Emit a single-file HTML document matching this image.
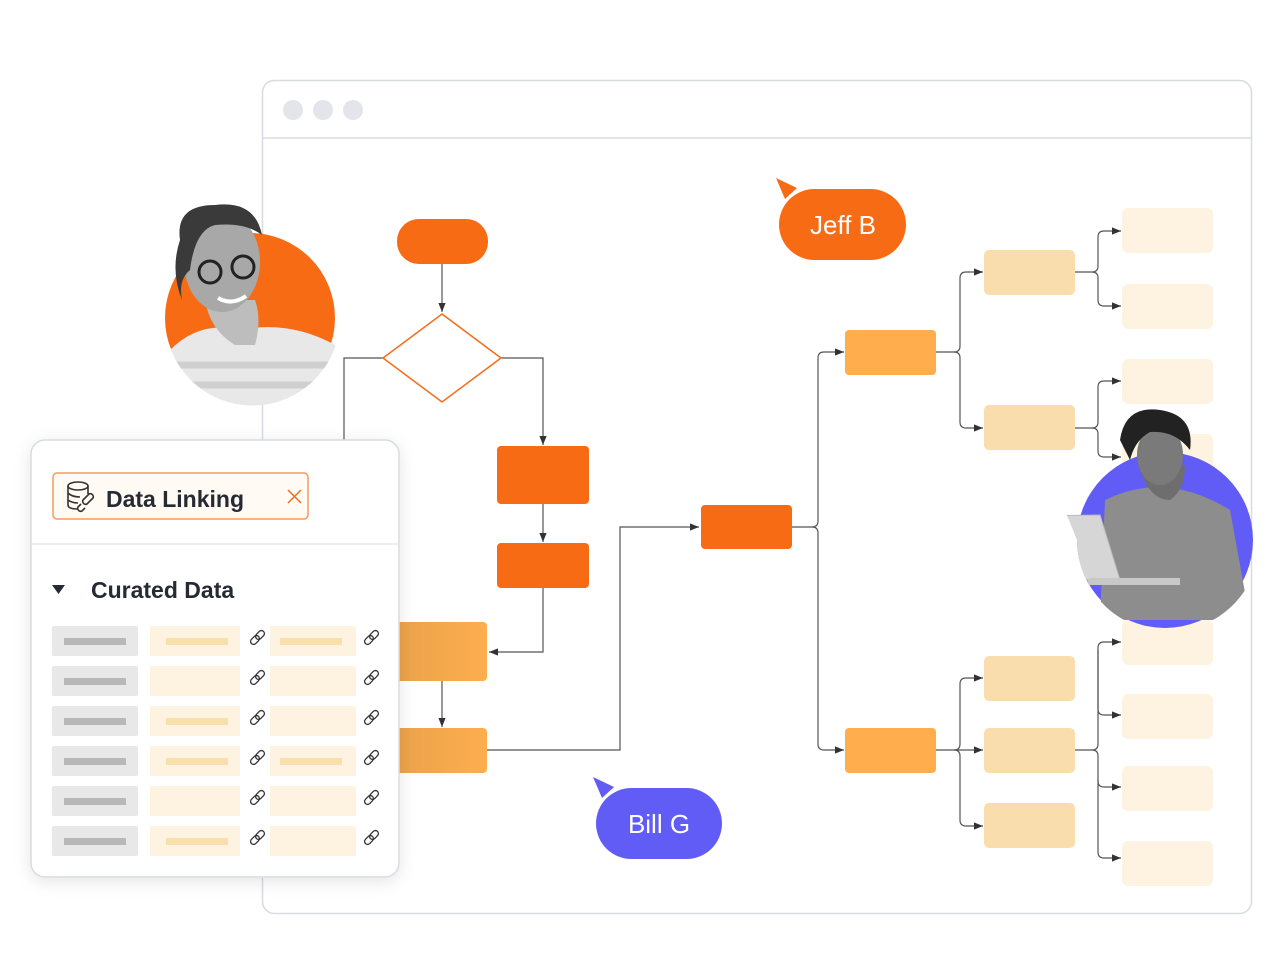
<!DOCTYPE html>
<html><head><meta charset="utf-8"><style>
html,body{margin:0;padding:0;background:#fff;}
body{width:1280px;height:960px;position:relative;overflow:hidden;font-family:"Liberation Sans",sans-serif;}
svg{position:absolute;left:0;top:0;}
</style></head><body>
<svg width="1280" height="960" viewBox="0 0 1280 960" xmlns="http://www.w3.org/2000/svg">
<defs>
<marker id="a" viewBox="0 0 10 10" refX="10" refY="5" markerWidth="11" markerHeight="9" orient="auto" markerUnits="userSpaceOnUse"><path d="M0,1 L10,5 L0,9 z" fill="#333"/></marker>
<linearGradient id="g" x1="0" x2="1"><stop offset="0" stop-color="#eba24a"/><stop offset="1" stop-color="#fdae4f"/></linearGradient>
<filter id="sh" x="-20%" y="-20%" width="140%" height="140%"><feDropShadow dx="0" dy="4" stdDeviation="8" flood-color="#000" flood-opacity="0.10"/></filter>
<clipPath id="c1"><path d="M160,190 H340 V318 A85,85 0 0 1 165,318 Z"/></clipPath>
<clipPath id="c2"><path d="M1020,400 H1260 V540 A88,88 0 0 1 1077,540 Z"/></clipPath>
</defs>
<rect x="262.5" y="80.5" width="989" height="833" rx="12" fill="#fff" stroke="#d8dbe0" stroke-width="1.5"/>
<line x1="263" y1="138" x2="1251" y2="138" stroke="#d8dbe0" stroke-width="1.5"/>
<circle cx="293" cy="110" r="10" fill="#e3e5ea"/><circle cx="323" cy="110" r="10" fill="#e3e5ea"/><circle cx="353" cy="110" r="10" fill="#e3e5ea"/>

<g fill="none" stroke="#555" stroke-width="1.2">
<path d="M442,264 V312" marker-end="url(#a)"/>
<path d="M501,358 H543 V445" marker-end="url(#a)"/>
<path d="M383,358 H344 V440"/>
<path d="M543,504 V542" marker-end="url(#a)"/>
<path d="M543,588 V652 H489" marker-end="url(#a)"/>
<path d="M442,681 V727" marker-end="url(#a)"/>
<path d="M487,750 H620 V527 H699" marker-end="url(#a)"/>
<path d="M792,527 H812 Q818,527 818,521 V358 Q818,352 824,352 H844" marker-end="url(#a)"/>
<path d="M812,527 Q818,527 818,533 V744 Q818,750 824,750 H844" marker-end="url(#a)"/>
<path d="M936,352 H954 Q960,352 960,346 V278 Q960,272 966,272 H983" marker-end="url(#a)"/>
<path d="M954,352 Q960,352 960,358 V422 Q960,428 966,428 H983" marker-end="url(#a)"/>
<path d="M1075,272 H1092 Q1098,272 1098,266 V237 Q1098,231 1104,231 H1121" marker-end="url(#a)"/>
<path d="M1092,272 Q1098,272 1098,278 V300 Q1098,306 1104,306 H1121" marker-end="url(#a)"/>
<path d="M1075,428 H1092 Q1098,428 1098,422 V387 Q1098,381 1104,381 H1121" marker-end="url(#a)"/>
<path d="M1092,428 Q1098,428 1098,434 V451 Q1098,457 1104,457 H1121" marker-end="url(#a)"/>
<path d="M936,750 H954 Q960,750 960,744 V684 Q960,678 966,678 H983" marker-end="url(#a)"/>
<path d="M954,750 H983" marker-end="url(#a)"/>
<path d="M954,750 Q960,750 960,756 V820 Q960,826 966,826 H983" marker-end="url(#a)"/>
<path d="M1075,750 H1092 Q1098,750 1098,744 V648 Q1098,642 1104,642 H1121" marker-end="url(#a)"/>
<path d="M1098,650 V709 Q1098,715 1104,715 H1121" marker-end="url(#a)"/>
<path d="M1092,750 Q1098,750 1098,756 V781 Q1098,787 1104,787 H1121" marker-end="url(#a)"/>
<path d="M1098,780 V852 Q1098,858 1104,858 H1121" marker-end="url(#a)"/>
</g>

<rect x="397" y="219" width="91" height="45" rx="22" fill="#f76b15"/>
<path d="M442,314 L501,358 L442,402 L383,358 Z" fill="#fff" stroke="#f76b15" stroke-width="1.5"/>
<rect x="497" y="446" width="92" height="58" rx="4" fill="#f76b15"/>
<rect x="497" y="543" width="92" height="45" rx="4" fill="#f76b15"/>
<rect x="396" y="622" width="91" height="59" rx="4" fill="url(#g)"/>
<rect x="396" y="728" width="91" height="45" rx="4" fill="url(#g)"/>
<rect x="701" y="505" width="91" height="44" rx="4" fill="#f76b15"/>
<rect x="845" y="330" width="91" height="45" rx="4" fill="#ffad4d"/>
<rect x="845" y="728" width="91" height="45" rx="4" fill="#ffad4d"/>
<g fill="#f9ddad">
<rect x="984" y="250" width="91" height="45" rx="5"/><rect x="984" y="405" width="91" height="45" rx="5"/>
<rect x="984" y="656" width="91" height="45" rx="5"/><rect x="984" y="728" width="91" height="45" rx="5"/><rect x="984" y="803" width="91" height="45" rx="5"/>
</g>
<g fill="#fdf3e0">
<rect x="1122" y="208" width="91" height="45" rx="6"/><rect x="1122" y="284" width="91" height="45" rx="6"/>
<rect x="1122" y="359" width="91" height="45" rx="6"/><rect x="1122" y="434" width="91" height="45" rx="6"/>
<rect x="1122" y="620" width="91" height="45" rx="6"/><rect x="1122" y="694" width="91" height="45" rx="6"/>
<rect x="1122" y="766" width="91" height="45" rx="6"/><rect x="1122" y="841" width="91" height="45" rx="6"/>
</g>

<path d="M776,178 L797,188 L785,199 Z" fill="#f76b15"/>
<rect x="779" y="189" width="127" height="71" rx="35.5" fill="#f76b15"/>
<text x="843" y="234" font-size="26" fill="#fff" text-anchor="middle">Jeff B</text>
<path d="M593,777 L614,787 L602,798 Z" fill="#605cf5"/>
<rect x="596" y="788" width="126" height="71" rx="35.5" fill="#605cf5"/>
<text x="659" y="833" font-size="26" fill="#fff" text-anchor="middle">Bill G</text>

<circle cx="250" cy="318" r="85" fill="#f76b15"/>
<g clip-path="url(#c1)">
<path d="M170,350 Q200,320 240,330 Q290,320 335,345 L340,410 L165,410 Z" fill="#e8e8e8"/>
<path d="M175,365 H335 M172,385 H335" stroke="#cfcfcf" stroke-width="7"/>
<path d="M205,300 Q210,330 235,345 L255,345 Q262,320 255,300 Z" fill="#bdbdbd"/>
<ellipse cx="222" cy="262" rx="38" ry="50" fill="#a8a8a8"/>
<path d="M180,240 Q175,205 215,205 Q255,200 262,235 Q245,222 215,225 Q195,230 190,270 Q178,280 182,300 Q170,270 180,240Z" fill="#3a3a3a"/>
<circle cx="210" cy="272" r="11" fill="none" stroke="#222" stroke-width="3"/>
<circle cx="243" cy="267" r="11" fill="none" stroke="#222" stroke-width="3"/>
<path d="M218,298 Q232,306 246,296" stroke="#fff" stroke-width="4" fill="none"/>
</g>

<circle cx="1165" cy="540" r="88" fill="#605cf5"/>
<g clip-path="url(#c2)">
<path d="M1105,500 Q1165,470 1230,510 L1250,620 L1100,620 Z" fill="#8d8d8d"/>
<path d="M1140,470 Q1150,500 1170,500 Q1185,490 1185,465 Z" fill="#6e6e6e"/>
<ellipse cx="1160" cy="455" rx="23" ry="30" fill="#7a7a7a"/>
<path d="M1120,440 Q1125,405 1160,410 Q1195,415 1190,450 Q1175,430 1150,432 Q1135,440 1130,460 Z" fill="#222"/>
<path d="M1033,516 L1100,515 L1120,580 L1052,580 Z" fill="#d6d6d6" stroke="#bbb"/>
<path d="M1090,578 H1180 V585 H1085 Z" fill="#c8c8c8"/>
</g>

<rect x="31" y="440" width="368" height="437" rx="14" fill="#fff" stroke="#d8dbe0" stroke-width="1.5" filter="url(#sh)"/>
<rect x="53" y="473" width="255" height="46" rx="4" fill="#fffaf3" stroke="#f79a5b" stroke-width="1.5"/>
<g fill="none" stroke="#333" stroke-width="1.6">
<ellipse cx="78" cy="486" rx="10" ry="4"/><path d="M68,486 V505 Q68,509 78,509 M88,486 V494 M68,493 Q72,497 80,497 M68,500 Q72,503 78,503"/>
<path d="M83,500 l6,-6 a3,3 0 0 1 4,4 l-6,6 a3,3 0 0 1 -4,-4z M81,504 l-3,3 a3,3 0 0 0 4,4 l3,-3"/>
</g>
<text x="106" y="507" font-size="23" font-weight="bold" fill="#252a33">Data Linking</text>
<path d="M288,490 L301,503 M301,490 L288,503" stroke="#f76b15" stroke-width="1.5"/>
<line x1="32" y1="544" x2="398" y2="544" stroke="#e3e5ea" stroke-width="1.5"/>
<path d="M52,585 L65,585 L58.5,594 Z" fill="#252a33"/>
<text x="91" y="598" font-size="23" font-weight="bold" fill="#252a33">Curated Data</text>
<g fill="#e8e8e8"><rect x="52" y="626" width="86" height="30" rx="2"/><rect x="52" y="666" width="86" height="30" rx="2"/><rect x="52" y="706" width="86" height="30" rx="2"/><rect x="52" y="746" width="86" height="30" rx="2"/><rect x="52" y="786" width="86" height="30" rx="2"/><rect x="52" y="826" width="86" height="30" rx="2"/></g>
<g fill="#b8b8b8"><rect x="64" y="638" width="62" height="7"/><rect x="64" y="678" width="62" height="7"/><rect x="64" y="718" width="62" height="7"/><rect x="64" y="758" width="62" height="7"/><rect x="64" y="798" width="62" height="7"/><rect x="64" y="838" width="62" height="7"/></g>
<g fill="#fdf3e0"><rect x="150" y="626" width="90" height="30"/><rect x="150" y="666" width="90" height="30"/><rect x="150" y="706" width="90" height="30"/><rect x="150" y="746" width="90" height="30"/><rect x="150" y="786" width="90" height="30"/><rect x="150" y="826" width="90" height="30"/>
<rect x="270" y="626" width="86" height="30"/><rect x="270" y="666" width="86" height="30"/><rect x="270" y="706" width="86" height="30"/><rect x="270" y="746" width="86" height="30"/><rect x="270" y="786" width="86" height="30"/><rect x="270" y="826" width="86" height="30"/></g>
<g fill="#f8dfab"><rect x="166" y="638" width="62" height="7"/><rect x="166" y="718" width="62" height="7"/><rect x="166" y="758" width="62" height="7"/><rect x="166" y="838" width="62" height="7"/><rect x="280" y="638" width="62" height="7"/><rect x="280" y="758" width="62" height="7"/></g>
<g fill="none" stroke="#333" stroke-width="1.3">
<g id="lk"><rect x="250" y="637" width="10" height="6" rx="3" transform="rotate(-45 255 640)"/><rect x="255" y="632" width="10" height="6" rx="3" transform="rotate(-45 260 635)"/></g>
<use href="#lk" x="114"/>
<use href="#lk" y="40"/><use href="#lk" x="114" y="40"/>
<use href="#lk" y="80"/><use href="#lk" x="114" y="80"/>
<use href="#lk" y="120"/><use href="#lk" x="114" y="120"/>
<use href="#lk" y="160"/><use href="#lk" x="114" y="160"/>
<use href="#lk" y="200"/><use href="#lk" x="114" y="200"/>
</g>
</svg>
</body></html>
